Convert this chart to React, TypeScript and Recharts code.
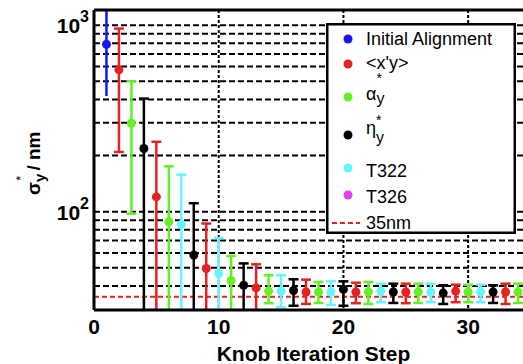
import { CartesianGrid, Label, Legend, ReferenceLine, Scatter, ScatterChart, XAxis, YAxis } from 'recharts';

// knob iteration data (sigma_y* in nm)
const steps = [1, 2, 3, 4, 5, 6, 7, 8, 9, 10, 11, 12, 13, 14, 15, 16, 17, 18, 19, 20, 21, 22, 23, 24, 25, 26, 27, 28, 29, 30, 31, 32, 33, 34];
const knobs = [
  'init', 'xy', 'alpha', 'eta', 'xy', 'alpha', 't322', 'eta', 'xy', 't322', 'alpha', 'eta', 'xy', 'alpha', 't322', 'eta', 'xy',
  'alpha', 't322', 'eta', 'xy', 'alpha', 't322', 'eta', 'xy', 'alpha', 't322', 'eta', 'xy', 'alpha', 't322', 'eta', 'xy', 'alpha',
];
const sigmaY = [789, 576, 298, 218, 120, 88.3, 85.3, 58.6, 49.6, 46.6, 42.6, 40.3, 39.0, 37.5, 37.5, 37.8, 37.1, 37.1, 37.1, 38.3, 37.1, 37.1, 37.5, 37.1, 37.1, 37.1, 37.1, 36.6, 37.5, 37.1, 37.1, 37.1, 37.1, 37.1];
const lowerY = [417, 209, 97.5, 25, 10, 10, 12, 10, 12.8, 20.9, 27.3, 27.8, 26, 32.3, 30.7, 31.3, 32.0, 32.4, 31.6, 31.3, 32.3, 32.0, 32.7, 32.4, 32.3, 32.4, 32.7, 32.0, 32.7, 32.7, 32.7, 32.4, 32.0, 32.4];
const upperY = [1300, 959, 500, 404, 237, 175, 158, 111, 86.4, 72.3, 57.9, 52.8, 52.2, 45.6, 45.6, 43.4, 43.2, 42.0, 42.3, 42.3, 41.6, 42.0, 41.1, 41.1, 41.1, 41.1, 41.1, 40.3, 40.6, 40.6, 40.6, 40.3, 41.1, 41.1];

const xTicks = [0, 10, 20, 30];
const xGridValues = [10, 20, 30];
const yTicks = [100, 1000];
const yGridValues = [40, 50, 60, 70, 80, 90, 100, 200, 300, 400, 500, 600, 700, 800, 900, 1000];
const targetNm = 35;

const series = [
  { key: 'init', name: 'Initial Alignment', color: '#1515f2', caps: false },
  { key: 'xy', name: "<x'y>", color: '#e42222', caps: true },
  { key: 'alpha', name: 'α', color: '#66ef25', caps: true },
  { key: 'eta', name: 'η', color: '#000000', caps: true },
  { key: 't322', name: 'T322', color: '#66f4ff', caps: true },
  { key: 't326', name: 'T326', color: '#e43ff0', caps: true },
];

const FONT = '"Liberation Sans", Arial, Helvetica, sans-serif';
const RED = '#e42222';
const CAP = 0.4; // half cap width, in steps

function pointsFor(key: string) {
  return steps
    .map((x, i) => ({ x, y: sigmaY[i], lo: lowerY[i], hi: upperY[i], knob: knobs[i] }))
    .filter((p) => p.knob === key);
}

// error bar segments, clipped to the plot by the reference lines
function errorBars(s: (typeof series)[number]) {
  const out: any[] = [];
  pointsFor(s.key).forEach((p) => {
    const common = { xAxisId: 'bottom', stroke: s.color, strokeWidth: 2.5, ifOverflow: 'hidden' as const };
    out.push(<ReferenceLine key={`${p.x}-v`} {...common} segment={[{ x: p.x, y: p.lo }, { x: p.x, y: p.hi }]} />);
    if (s.caps) {
      out.push(<ReferenceLine key={`${p.x}-h`} {...common} segment={[{ x: p.x - CAP, y: p.hi }, { x: p.x + CAP, y: p.hi }]} />);
      out.push(<ReferenceLine key={`${p.x}-l`} {...common} segment={[{ x: p.x - CAP, y: p.lo }, { x: p.x + CAP, y: p.lo }]} />);
    }
  });
  return out;
}

function XTick({ x, y, payload }: any) {
  return (
    <text x={x} y={y + 24} textAnchor="middle" fontFamily={FONT} fontSize={21} fontWeight="bold" fill="#000">
      {payload.value}
    </text>
  );
}

function YTick({ x, y, payload }: any) {
  const exp = Math.round(Math.log10(payload.value));
  return (
    <text x={x - 5} y={y + 8} textAnchor="end" fontFamily={FONT} fontWeight="bold" fill="#000">
      <tspan fontSize={21}>10</tspan>
      <tspan fontSize={16} dy={-11}>{exp}</tspan>
    </text>
  );
}

function XLabel({ viewBox }: any) {
  return (
    <text x={viewBox.x + viewBox.width / 2} y={viewBox.y + 51} textAnchor="middle" fontFamily={FONT} fontSize={21} fontWeight="bold" fill="#000">
      Knob Iteration Step
    </text>
  );
}

function YLabel() {
  return (
    <text transform="rotate(-90)" x={-195} y={40} fontFamily={FONT} fontWeight="bold" fill="#000">
      <tspan fontSize={19}>σ</tspan>
      <tspan fontSize={15} dy={5}>y</tspan>
      <tspan fontSize={13} fontWeight="normal" dx={-7} dy={-20}>*</tspan>
      <tspan fontSize={19} dx={5} dy={15}>/ nm</tspan>
    </text>
  );
}

function LegendBox() {
  const dotX = 22;
  const textX = 40;
  return (
    <svg width={190} height={211} style={{ display: 'block' }} fontFamily={FONT} fontSize={18}>
      <rect x={1.25} y={1.25} width={187.5} height={208.5} fill="#fff" stroke="#000" strokeWidth={2.5} />
      <circle cx={dotX} cy={16} r={4.5} fill={series[0].color} />
      <text x={textX} y={22}>{series[0].name}</text>
      <circle cx={dotX} cy={41} r={4.5} fill={series[1].color} />
      <text x={textX} y={46}>{series[1].name}</text>
      <circle cx={dotX} cy={74} r={4.5} fill={series[2].color} />
      <text x={textX} y={77}>
        {series[2].name}
        <tspan fontSize={16} dy={3.5}>y</tspan>
        <tspan fontSize={14} dx={-8} dy={-20.5}>*</tspan>
      </text>
      <circle cx={dotX} cy={112} r={4.5} fill={series[3].color} />
      <text x={textX} y={111}>
        {series[3].name}
        <tspan fontSize={16} dy={9}>y</tspan>
        <tspan fontSize={14} dx={-8} dy={-18}>*</tspan>
      </text>
      <circle cx={dotX} cy={145} r={4.5} fill={series[4].color} />
      <text x={textX} y={154}>{series[4].name}</text>
      <circle cx={dotX} cy={172} r={4.5} fill={series[5].color} />
      <text x={textX} y={180}>{series[5].name}</text>
      <line x1={6} x2={34} y1={200} y2={200} stroke={RED} strokeWidth={2} strokeDasharray="5 3" />
      <text x={textX} y={206}>{targetNm}nm</text>
    </svg>
  );
}

export default function App() {
  const xDomain = [0, 35.2];
  return (
    <div style={{ position: 'fixed', left: 0, top: 0, width: 523, height: 364, overflow: 'hidden', background: '#fff' }}>
      <ScatterChart width={540} height={364} margin={{ top: 10, right: 7, bottom: 0, left: 0 }}>
        <CartesianGrid
          xAxisId="bottom"
          vertical={false}
          horizontalValues={yGridValues}
          stroke="#000"
          strokeWidth={2}
          strokeDasharray="6 3"
        />
        <CartesianGrid
          xAxisId="bottom"
          horizontal={false}
          verticalValues={xGridValues}
          stroke="#000"
          strokeWidth={2}
          strokeDasharray="3 2"
        />
        <XAxis
          xAxisId="bottom"
          type="number"
          dataKey="x"
          domain={xDomain}
          ticks={xTicks}
          interval={0}
          allowDataOverflow
          height={54}
          tickLine={false}
          tickSize={0}
          tickMargin={0}
          tick={XTick}
          axisLine={{ stroke: '#000', strokeWidth: 3 }}
        >
          <Label content={XLabel} />
        </XAxis>
        <XAxis
          xAxisId="top"
          orientation="top"
          type="number"
          domain={xDomain}
          ticks={xTicks}
          interval={0}
          allowDataOverflow
          mirror
          tick={false}
          tickSize={7}
          tickLine={{ stroke: '#000', strokeWidth: 2 }}
          axisLine={{ stroke: '#000', strokeWidth: 3 }}
        />
        <YAxis
          type="number"
          dataKey="y"
          scale="log"
          domain={[29.7, 1206]}
          ticks={yTicks}
          interval={0}
          allowDataOverflow
          width={94}
          tickLine={false}
          tickSize={0}
          tickMargin={0}
          tick={YTick}
          axisLine={{ stroke: '#000', strokeWidth: 3 }}
        >
          <Label content={YLabel} />
        </YAxis>
        <ReferenceLine xAxisId="bottom" y={targetNm} stroke={RED} strokeWidth={2} strokeDasharray="5 3" />
        {series.flatMap((s) => errorBars(s))}
        {series
          .filter((s) => pointsFor(s.key).length > 0)
          .map((s) => (
            <Scatter
              key={s.key}
              xAxisId="bottom"
              name={s.name}
              data={pointsFor(s.key)}
              fill={s.color}
              isAnimationActive={false}
              shape={(p: any) => <circle cx={p.cx} cy={p.cy} r={4.5} fill={s.color} />}
            />
          ))}
        <Legend
          layout="vertical"
          align="center"
          verticalAlign="middle"
          wrapperStyle={{ position: 'absolute', left: 326, top: 23, width: 190, height: 211, margin: 0 }}
          content={LegendBox}
        />
      </ScatterChart>
    </div>
  );
}
